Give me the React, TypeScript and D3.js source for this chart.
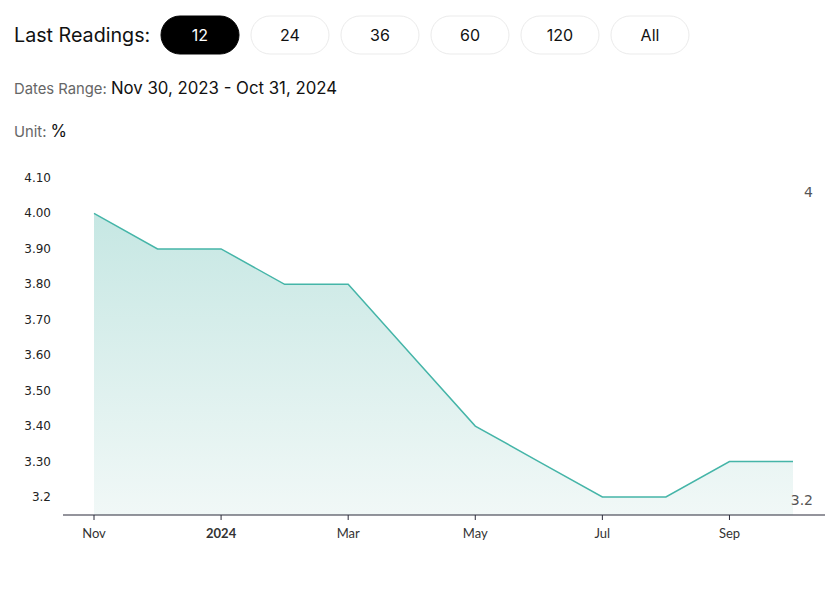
import React, { useEffect, useRef } from "react";
import * as d3 from "d3";

const months = ["Nov", "Dec", "Jan", "Feb", "Mar", "Apr", "May", "Jun", "Jul", "Aug", "Sep", "Oct"];
const values = [4.0, 3.9, 3.9, 3.8, 3.8, 3.6, 3.4, 3.3, 3.2, 3.2, 3.3, 3.3];
const xTickIdx = [0, 2, 4, 6, 8, 10];
const xTickLabels = ["Nov", "2024", "Mar", "May", "Jul", "Sep"];
const yTicks = [3.2, 3.3, 3.4, 3.5, 3.6, 3.7, 3.8, 3.9, 4.0, 4.1];
const buttons = ["12", "24", "36", "60", "120", "All"];

const W = 840;
const H = 593;

function Chart() {
    const node = useRef<SVGSVGElement>(null);

    useEffect(() => {
        const svg = d3.select(node.current);
        svg.selectAll("*").remove();

        const font = "Inter, 'Noto Sans', sans-serif";

        // header
        svg.append("text")
            .attr("x", 14).attr("y", 42)
            .attr("font-family", font).attr("font-size", 19.7).attr("fill", "#111")
            .text("Last Readings:");

        const btnX = d3.scaleBand<string>().domain(buttons).range([161, 689]).paddingInner(0.1333);
        const btn = svg.append("g").selectAll("g").data(buttons).join("g")
            .attr("transform", d => "translate(" + btnX(d) + ",16)");
        btn.append("rect")
            .attr("width", btnX.bandwidth()).attr("height", 38)
            .attr("rx", 19)
            .attr("fill", (d, i) => i == 0 ? "#000" : "#fff")
            .attr("stroke", (d, i) => i == 0 ? "#000" : "#ebebeb");
        btn.append("text")
            .attr("x", btnX.bandwidth() / 2).attr("y", 25)
            .attr("text-anchor", "middle")
            .attr("font-family", font).attr("font-size", 16)
            .attr("fill", (d, i) => i == 0 ? "#fff" : "#111")
            .text(d => d);

        const dr = svg.append("text").attr("x", 14).attr("y", 94).attr("font-family", font);
        dr.append("tspan").attr("font-size", 14.8).attr("fill", "#666").text("Dates Range: ");
        dr.append("tspan").attr("font-size", 16.8).attr("fill", "#111").text("Nov 30, 2023 - Oct 31, 2024");

        const un = svg.append("text").attr("x", 14).attr("y", 137).attr("font-family", font);
        un.append("tspan").attr("font-size", 14.8).attr("fill", "#666").text("Unit: ");
        un.append("tspan").attr("font-size", 16.8).attr("fill", "#111").text("%");

        // scales
        const xScale = d3.scaleLinear().domain([0, months.length - 1]).range([94, 793]);
        const yScale = d3.scaleLinear().domain([3.2, 4.1]).range([497, 178]);
        const base = 515;

        const defs = svg.append("defs");
        const grad = defs.append("linearGradient")
            .attr("id", "fillGrad").attr("x1", 0).attr("y1", 0).attr("x2", 0).attr("y2", 1);
        grad.append("stop").attr("offset", "0%").attr("stop-color", "#c6e7e3");
        grad.append("stop").attr("offset", "100%").attr("stop-color", "#f1f8f7");

        const area = d3.area<number>()
            .x((d, i) => xScale(i))
            .y0(base)
            .y1(d => yScale(d));
        svg.append("path")
            .datum(values)
            .attr("fill", "url(#fillGrad)")
            .attr("d", area as any);

        const line = d3.line<number>()
            .x((d, i) => xScale(i))
            .y(d => yScale(d));
        svg.append("path")
            .datum(values)
            .attr("fill", "none")
            .attr("stroke", "#45b5a8")
            .attr("stroke-width", 1.5)
            .attr("d", line as any);

        // y labels
        svg.append("g").selectAll("text").data(yTicks).join("text")
            .attr("x", 51).attr("y", d => yScale(d) + 4)
            .attr("text-anchor", "end")
            .attr("font-family", "'DejaVu Sans', Verdana, sans-serif")
            .attr("font-size", 12).attr("fill", "#222")
            .text(d => d == 3.2 ? "3.2" : d.toFixed(2));

        // x axis
        svg.append("line")
            .attr("x1", 63).attr("x2", 825).attr("y1", base).attr("y2", base)
            .attr("stroke", "#2b2b3a").attr("stroke-width", 1.2);
        const xt = svg.append("g").selectAll("g").data(xTickIdx).join("g")
            .attr("transform", d => "translate(" + xScale(d) + "," + base + ")");
        xt.append("line").attr("y1", 0).attr("y2", 5).attr("stroke", "#2b2b3a");
        xt.append("text")
            .attr("y", 23).attr("text-anchor", "middle")
            .attr("font-family", "Lato, sans-serif").attr("font-size", 13)
            .attr("font-weight", (d, i) => xTickLabels[i] == "2024" ? "bold" : "normal")
            .attr("fill", "#333")
            .text((d, i) => xTickLabels[i]);

        // side labels (max / min)
        const side = [d3.max(values)!, d3.min(values)!];
        svg.append("g").selectAll("text").data(side).join("text")
            .attr("x", 813).attr("y", (d, i) => i == 0 ? yScale(d) - 16 : yScale(d) + 8)
            .attr("text-anchor", "end")
            .attr("font-family", "'DejaVu Sans', sans-serif")
            .attr("font-size", 14).attr("fill", "#555")
            .text(d => String(d));
    }, []);

    return <svg ref={node} width={W} height={H} style={{ position: "absolute", left: 0, top: 0, background: "#fff" }}></svg>;
}

export default function App() {
    return <Chart />;
}
